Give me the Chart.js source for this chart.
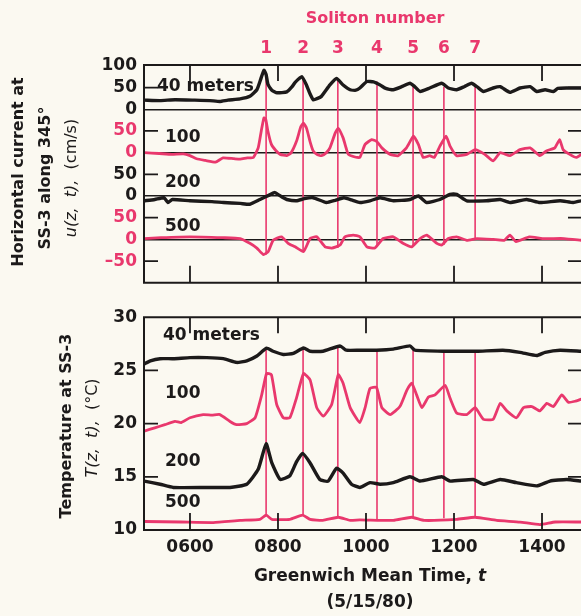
<!DOCTYPE html>
<html>
<head>
<meta charset="utf-8">
<script src="https://cdn.jsdelivr.net/npm/chart.js@4.4.0/dist/chart.umd.min.js"></script>
<style>
  html, body { margin: 0; padding: 0; background: #fbf9f1; overflow: hidden; }
  #wrap { position: relative; width: 581px; height: 616px; }
  #topBox { position: absolute; left: 0; top: 0; }
  #botBox { position: absolute; left: 0; top: 300px; }
</style>
</head>
<body>
<div id="wrap">
  <div id="topBox"><canvas id="currentChart" width="581" height="300"></canvas></div>
  <div id="botBox"><canvas id="tempChart" width="581" height="316"></canvas></div>
</div>
<script>
// time in hours GMT (5/15/80)
const hourTicks = [6, 8, 10, 12, 14];
const depthLabels = ['40 meters', '100', '200', '500'];

// soliton arrival times and the extent of the marker lines (value units of each panel)
const solitonTimes = [7.73, 8.57, 9.36, 10.25, 11.07, 11.77, 12.48];
const solitonTopU = [83, 72, 70, 64, 56, 52, 52];
const solitonBotU = [-335, -328, -320, -317, -317, -313, -298];
const solitonTopT = [27.1, 27.1, 27.3, 26.9, 27.0, 26.9, 26.8];
const solitonBotT = [11.4, 11.4, 11.2, 11.0, 11.2, 11.1, 11.2];

// horizontal current u (cm/s), [time, value]
const curr40 = [[4.96,21],[5.32,20],[5.66,22],[6.11,21],[6.45,20],[6.68,18],[6.86,21],[7.14,24],[7.36,30],[7.52,45],[7.61,70],[7.68,90],[7.73,80],[7.77,58],[7.86,44],[7.98,38],[8.2,40],[8.32,52],[8.39,62],[8.54,75],[8.65,55],[8.73,35],[8.8,22],[8.9,25],[8.99,30],[9.18,56],[9.33,71],[9.48,56],[9.64,45],[9.77,44],[9.86,49],[10.02,64],[10.17,63],[10.32,56],[10.45,48],[10.62,45],[10.81,52],[11.0,60],[11.11,52],[11.23,41],[11.45,49],[11.72,60],[11.87,49],[12.06,45],[12.23,52],[12.4,60],[12.52,52],[12.67,41],[12.89,49],[13.05,52],[13.27,39],[13.5,49],[13.73,52],[13.88,41],[14.07,45],[14.26,41],[14.36,48],[14.56,49],[14.89,49]];
const curr100 = [[4.96,0],[5.3,-2],[5.59,-4],[5.85,-3],[6.0,-7],[6.15,-14],[6.35,-18],[6.58,-22],[6.75,-12],[7.0,-14],[7.14,-15],[7.3,-12],[7.44,-11],[7.55,11],[7.62,50],[7.68,80],[7.72,78],[7.77,50],[7.85,19],[7.95,5],[8.05,-4],[8.2,-7],[8.3,0],[8.42,26],[8.52,60],[8.58,68],[8.65,56],[8.73,25],[8.8,4],[8.9,-5],[8.99,-7],[9.1,0],[9.18,11],[9.3,45],[9.37,56],[9.48,34],[9.55,10],[9.6,-4],[9.75,-10],[9.86,-11],[9.98,19],[10.13,30],[10.24,26],[10.36,11],[10.55,-4],[10.73,-7],[10.92,11],[11.08,38],[11.19,19],[11.3,-11],[11.45,-7],[11.55,-11],[11.68,15],[11.82,38],[11.91,15],[12.06,-7],[12.29,-4],[12.48,7],[12.7,-4],[12.89,-19],[13.05,0],[13.27,-7],[13.5,7],[13.73,11],[13.95,-7],[14.1,4],[14.29,11],[14.4,30],[14.48,7],[14.63,-4],[14.78,-11],[14.89,-4]];
const curr200 = [[4.96,-11],[5.2,-8],[5.41,-4],[5.5,-15],[5.6,-8],[6.0,-11],[6.5,-13],[6.76,-15],[7.14,-17],[7.36,-19],[7.59,-8],[7.8,2],[7.93,8],[8.1,-3],[8.2,-8],[8.42,-11],[8.6,-6],[8.8,-4],[9.1,-15],[9.3,-10],[9.5,-4],[9.7,-10],[9.86,-15],[10.09,-11],[10.32,-4],[10.62,-11],[11.0,-8],[11.19,0],[11.38,-15],[11.68,-8],[11.91,4],[12.06,4],[12.29,-11],[12.74,-11],[13.05,-8],[13.27,-15],[13.65,-8],[13.95,-15],[14.41,-11],[14.71,-15],[14.89,-11]];
const curr500 = [[4.96,2],[5.34,4],[6.0,6],[6.75,4],[7.14,2],[7.36,-9],[7.52,-20],[7.67,-35],[7.78,-28],[7.89,-2],[8.08,6],[8.23,-9],[8.39,-17],[8.58,-28],[8.73,2],[8.88,6],[9.07,-17],[9.22,-20],[9.41,-13],[9.52,6],[9.71,10],[9.86,6],[10.02,-17],[10.2,-20],[10.39,2],[10.62,6],[10.84,-9],[11.04,-17],[11.23,2],[11.38,10],[11.61,-9],[11.72,-13],[11.87,2],[12.06,6],[12.29,-2],[12.52,2],[12.89,0],[13.14,-2],[13.27,10],[13.41,-5],[13.71,6],[14.01,2],[14.5,2],[14.89,-2]];

// temperature T (deg C), [time, value]
const temp40 = [[4.96,25.6],[5.1,25.9],[5.32,26.1],[5.62,26.1],[6.0,26.2],[6.38,26.2],[6.76,26.1],[7.06,25.75],[7.29,25.9],[7.52,26.35],[7.74,27.1],[7.89,26.8],[8.12,26.5],[8.35,26.6],[8.58,27.1],[8.73,26.8],[9.02,26.8],[9.41,27.3],[9.55,26.9],[9.86,26.9],[10.24,26.9],[10.62,27.0],[11.0,27.3],[11.11,26.9],[11.77,26.8],[12.52,26.8],[13.11,26.9],[13.5,26.7],[13.88,26.4],[14.07,26.7],[14.41,26.9],[14.89,26.8]];
const temp100 = [[4.96,19.3],[5.2,19.6],[5.43,19.9],[5.66,20.2],[5.8,20.1],[6.0,20.55],[6.3,20.85],[6.5,20.8],[6.68,20.85],[6.91,20.2],[7.06,19.9],[7.29,20.0],[7.48,20.55],[7.63,22.7],[7.74,24.7],[7.85,24.6],[7.97,21.8],[8.12,20.55],[8.27,20.55],[8.42,22.4],[8.58,24.7],[8.73,24.1],[8.88,21.5],[9.03,20.7],[9.22,21.8],[9.37,24.6],[9.48,23.8],[9.64,21.5],[9.86,20.1],[9.98,21.5],[10.09,23.3],[10.24,23.4],[10.36,21.5],[10.55,20.85],[10.77,21.6],[10.93,23.15],[11.04,23.8],[11.15,22.7],[11.27,21.5],[11.42,22.5],[11.57,22.7],[11.8,23.6],[11.91,22.4],[12.06,21.0],[12.29,20.85],[12.48,21.5],[12.67,20.4],[12.89,20.4],[13.05,21.9],[13.2,21.2],[13.42,20.55],[13.58,21.5],[13.77,21.6],[13.95,21.2],[14.11,21.9],[14.26,21.6],[14.45,22.7],[14.6,22.0],[14.75,22.1],[14.89,22.3]];
const temp200 = [[4.96,14.6],[5.32,14.3],[5.62,14.0],[6.38,14.0],[6.91,14.0],[7.29,14.3],[7.55,15.7],[7.73,18.1],[7.86,16.3],[8.05,14.75],[8.27,15.1],[8.42,16.4],[8.56,17.2],[8.73,16.3],[8.95,14.75],[9.14,14.6],[9.33,15.8],[9.48,15.35],[9.67,14.3],[9.86,14.0],[10.09,14.45],[10.32,14.3],[10.62,14.45],[11.0,15.0],[11.23,14.6],[11.72,15.0],[11.91,14.6],[12.44,14.75],[12.67,14.3],[13.05,14.75],[13.42,14.45],[13.88,14.15],[14.18,14.6],[14.56,14.75],[14.89,14.6]];
const temp500 = [[4.96,10.8],[5.8,10.75],[6.53,10.7],[7.14,10.9],[7.59,11.0],[7.73,11.4],[7.86,11.0],[8.27,11.0],[8.56,11.4],[8.73,11.0],[9.02,10.9],[9.37,11.2],[9.64,10.9],[9.86,10.95],[10.62,10.9],[11.04,11.2],[11.32,10.9],[12.06,11.0],[12.48,11.2],[12.97,10.9],[13.5,10.75],[13.95,10.5],[14.3,10.75],[14.89,10.75]];

// y ticks
const uTicks = [100, 50, 0, -50, -100, -150, -200, -250, -300, -350];
const tTicks = [10, 15, 20, 25, 30];

// stacking of the current traces on one axis
const uOffsets = [0, -100, -200, -300];

const INK = '#1c1a1a';
const PINK = '#e9386d';
const depthColors = [INK, PINK, INK, PINK];
const FONT = "'DejaVu Sans', sans-serif";
const X_MIN = 4.955, X_MAX = 14.886;

function depthOf(v) {
    return Math.min(3, Math.max(0, Math.ceil(-v / 100 - 0.001)));
}

function curve(points, offset, color, width) {
    return {
        data: points.map(p => ({ x: p[0], y: p[1] + offset })),
        borderColor: color,
        borderWidth: width,
        pointRadius: 0,
        tension: 0.15,
        borderJoinStyle: 'round',
        borderCapStyle: 'round',
        fill: false
    };
}

function solitonLines(tops, bots) {
    return solitonTimes.map((t, i) => ({
        data: [{ x: t, y: tops[i] }, { x: t, y: bots[i] }],
        borderColor: PINK,
        borderWidth: 1.6,
        pointRadius: 0,
        fill: false
    }));
}

// frame and inward tick marks
const framePlugin = {
    id: 'frame',
    afterDraw(chart, args, opts) {
        const { ctx, chartArea: a } = chart;
        const xs = chart.scales.x, ys = chart.scales.y;
        ctx.save();
        ctx.strokeStyle = INK;
        ctx.lineWidth = 2;
        ctx.beginPath();
        ctx.moveTo(a.right + 5, a.top);
        ctx.lineTo(a.left, a.top);
        ctx.lineTo(a.left, a.bottom);
        ctx.lineTo(a.right + 5, a.bottom);
        ctx.stroke();
        ctx.lineWidth = 1.8;
        ctx.beginPath();
        opts.yMarks.forEach(v => {
            const y = ys.getPixelForValue(v);
            ctx.moveTo(a.left, y); ctx.lineTo(a.left + 14, y);
            ctx.moveTo(a.right - 13, y); ctx.lineTo(a.right, y);
        });
        hourTicks.forEach(h => {
            const x = xs.getPixelForValue(h);
            ctx.moveTo(x, a.top); ctx.lineTo(x, a.top + 16);
            ctx.moveTo(x, a.bottom); ctx.lineTo(x, a.bottom - 17);
        });
        ctx.stroke();
        ctx.restore();
    }
};

// free text: titles and depth names, some with mixed italic runs
const textPlugin = {
    id: 'texts',
    afterDraw(chart, args, opts) {
        const ctx = chart.ctx;
        opts.items.forEach(item => {
            ctx.save();
            ctx.translate(item.x, item.y);
            if (item.rot) ctx.rotate(-Math.PI / 2);
            ctx.textBaseline = 'middle';
            ctx.textAlign = 'left';
            ctx.fillStyle = item.color || INK;
            const widths = item.runs.map(r => { ctx.font = r[1]; return ctx.measureText(r[0]).width; });
            const total = widths.reduce((s, w) => s + w, 0);
            let cx = item.align === 'left' ? 0 : -total / 2;
            item.runs.forEach((r, i) => {
                ctx.font = r[1];
                ctx.fillText(r[0], cx, 0);
                cx += widths[i];
            });
            ctx.restore();
        });
    }
};

const B16 = 'bold 16px ' + FONT;
const B17 = 'bold 17px ' + FONT;
const I16 = 'italic 16px ' + FONT;
const R16 = '16px ' + FONT;
const BI17 = 'bold italic 17px ' + FONT;

function hourLabel(v) {
    return String(v * 100).padStart(4, '0');
}

// ---------- current panel ----------
new Chart(document.getElementById('currentChart'), {
    type: 'line',
    data: {
        datasets: [
            curve(curr40, uOffsets[0], depthColors[0], 3.4),
            curve(curr100, uOffsets[1], depthColors[1], 2.8),
            curve(curr200, uOffsets[2], depthColors[2], 3.4),
            curve(curr500, uOffsets[3], depthColors[3], 2.8),
            ...solitonLines(solitonTopU, solitonBotU)
        ]
    },
    options: {
        responsive: false,
        animation: false,
        events: [],
        layout: { padding: 0 },
        scales: {
            x: {
                type: 'linear', position: 'bottom', min: X_MIN, max: X_MAX,
                afterBuildTicks: s => { s.ticks = hourTicks.map(v => ({ value: v })); },
                ticks: { display: false },
                grid: { display: false, drawTicks: false },
                border: { display: false },
                afterFit: s => { s.height = 14; }
            },
            sol: {
                type: 'linear', position: 'top', min: X_MIN, max: X_MAX,
                afterBuildTicks: s => { s.ticks = solitonTimes.map(v => ({ value: v })); },
                ticks: {
                    color: PINK, font: { family: FONT, size: 17, weight: 'bold' },
                    padding: 6, autoSkip: false, maxRotation: 0,
                    callback: (v, i) => String(i + 1)
                },
                grid: { display: false, drawTicks: false },
                border: { display: false },
                afterFit: s => { s.height = 65; }
            },
            y: {
                type: 'linear', min: -400, max: 102,
                afterBuildTicks: s => { s.ticks = uTicks.map(v => ({ value: v })); },
                ticks: {
                    autoSkip: false, padding: 7,
                    font: { family: FONT, size: 17, weight: 'bold' },
                    color: c => depthColors[depthOf(c.tick.value)],
                    callback: v => {
                        const r = v - uOffsets[depthOf(v)];
                        return r < 0 ? '\u2013' + (-r) : String(r);
                    }
                },
                grid: {
                    drawTicks: false, lineWidth: 1.4,
                    color: c => uOffsets.includes(c.tick.value) ? INK : 'rgba(0,0,0,0)'
                },
                border: { display: false },
                afterFit: s => { s.width = 144; }
            }
        },
        plugins: {
            legend: { display: false },
            tooltip: { enabled: false },
            frame: { yMarks: [50, -50, -150, -250, -350] },
            texts: {
                items: [
                    { x: 375, y: 19, color: PINK, runs: [['Soliton number', B16]] },
                    { x: 19, y: 172, rot: true, runs: [['Horizontal current at', B16]] },
                    { x: 46, y: 178, rot: true, runs: [['SS-3 along 345\u00b0', B16]] },
                    { x: 72, y: 178, rot: true, runs: [['u(z,  t),', I16], ['  (cm/s)', R16]] },
                    { x: 157, y: 87, align: 'left', runs: [[depthLabels[0], B17]] },
                    { x: 165, y: 138, align: 'left', runs: [[depthLabels[1], B17]] },
                    { x: 165, y: 183, align: 'left', runs: [[depthLabels[2], B17]] },
                    { x: 165, y: 227, align: 'left', runs: [[depthLabels[3], B17]] }
                ]
            }
        }
    },
    plugins: [framePlugin, textPlugin]
});

// ---------- temperature panel ----------
new Chart(document.getElementById('tempChart'), {
    type: 'line',
    data: {
        datasets: [
            curve(temp40, 0, depthColors[0], 3.4),
            curve(temp100, 0, depthColors[1], 2.8),
            curve(temp200, 0, depthColors[2], 3.4),
            curve(temp500, 0, depthColors[3], 2.8),
            ...solitonLines(solitonTopT, solitonBotT)
        ]
    },
    options: {
        responsive: false,
        animation: false,
        events: [],
        layout: { padding: { top: 12, right: 0, bottom: 0, left: 0 } },
        scales: {
            x: {
                type: 'linear', position: 'bottom', min: X_MIN, max: X_MAX,
                afterBuildTicks: s => { s.ticks = hourTicks.map(v => ({ value: v })); },
                ticks: {
                    color: INK, padding: 7, autoSkip: false, maxRotation: 0,
                    font: { family: FONT, size: 17, weight: 'bold' },
                    callback: v => hourLabel(v)
                },
                grid: { display: false, drawTicks: false },
                border: { display: false },
                afterFit: s => { s.height = 86; }
            },
            y: {
                type: 'linear', min: 10, max: 30,
                afterBuildTicks: s => { s.ticks = tTicks.map(v => ({ value: v })); },
                ticks: {
                    color: INK, padding: 7, autoSkip: false,
                    font: { family: FONT, size: 17, weight: 'bold' }
                },
                grid: { display: false, drawTicks: false },
                border: { display: false },
                afterFit: s => { s.width = 144; }
            }
        },
        plugins: {
            legend: { display: false },
            tooltip: { enabled: false },
            frame: { yMarks: [15, 20, 25] },
            texts: {
                items: [
                    { x: 67, y: 126, rot: true, runs: [['Temperature at SS-3', B16]] },
                    { x: 93, y: 128, rot: true, runs: [['T(z,  t),', I16], ['  (\u00b0C)', R16]] },
                    { x: 370, y: 277, runs: [['Greenwich Mean Time, ', B17], ['t', BI17]] },
                    { x: 370, y: 303, runs: [['(5/15/80)', B17]] },
                    { x: 163, y: 36, align: 'left', runs: [[depthLabels[0], B17]] },
                    { x: 165, y: 94, align: 'left', runs: [[depthLabels[1], B17]] },
                    { x: 165, y: 162, align: 'left', runs: [[depthLabels[2], B17]] },
                    { x: 165, y: 203, align: 'left', runs: [[depthLabels[3], B17]] }
                ]
            }
        }
    },
    plugins: [framePlugin, textPlugin]
});
</script>
</body>
</html>
